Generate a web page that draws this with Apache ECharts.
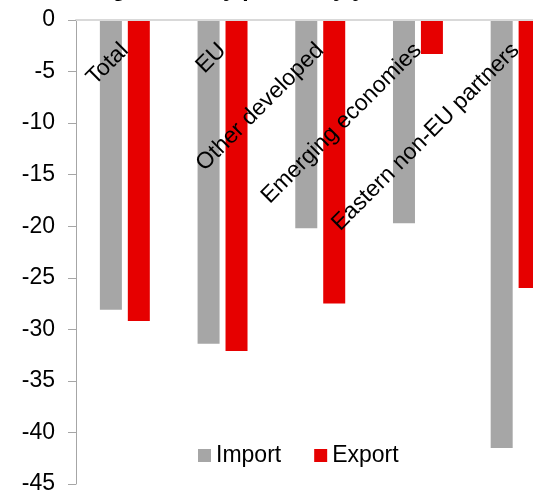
<!DOCTYPE html>
<html>
<head>
<meta charset="utf-8">
<script src="https://cdn.jsdelivr.net/npm/echarts@6/dist/echarts.min.js"></script>
<style>
html,body{margin:0;padding:0;background:#fff;}
#chart{width:533px;height:492px;}
</style>
</head>
<body>
<div id="chart"></div>
<script>
const categories = ["Total", "EU", "Other developed", "Emerging economies", "Eastern non-EU partners"];
const importValues = [-28.1, -31.4, -20.2, -19.7, -41.5];
const exportValues = [-29.2, -32.1, -27.5, -3.3, -26.0];
const seriesNames = ["Import", "Export"];
const yTicks = { min: -45, max: 0, interval: 5 };
const titleText = "Foreign trade by partner, y/y";

const chart = echarts.init(document.getElementById('chart'));
const font = "'Liberation Sans', Arial, sans-serif";
chart.setOption({
  animation: false,
  title: {
    text: titleText,
    right: 168,
    top: -21.5,
    padding: 0,
    textStyle: { fontFamily: font, fontSize: 23, fontWeight: 'bold', color: '#000' }
  },
  grid: { left: 76, top: 20, width: 488.5, height: 464, outerBoundsMode: 'none', containLabel: false },
  legend: {
    left: 198,
    top: 444,
    padding: 0,
    itemWidth: 13,
    itemHeight: 13,
    itemGap: 33,
    icon: 'rect',
    textStyle: { fontFamily: font, fontSize: 23, color: '#000' },
    data: seriesNames
  },
  xAxis: {
    type: 'category',
    position: 'top',
    z: 10,
    data: categories,
    axisLine: { show: true, lineStyle: { color: '#d9d9d9', width: 2 } },
    axisTick: { show: false },
    axisLabel: {
      inside: true,
      rotate: 45,
      margin: 27,
      interval: 0,
      fontFamily: font,
      fontSize: 23,
      color: '#000'
    },
    splitLine: { show: false }
  },
  yAxis: {
    type: 'value',
    min: yTicks.min,
    max: yTicks.max,
    interval: yTicks.interval,
    z: 10,
    axisLine: { show: true, lineStyle: { color: '#a6a6a6', width: 1 } },
    axisTick: { show: true, length: 8, lineStyle: { color: '#a6a6a6' } },
    axisLabel: { fontFamily: font, fontSize: 23, color: '#000', margin: 21 },
    splitLine: { show: false }
  },
  series: [
    {
      name: seriesNames[0],
      type: 'bar',
      data: importValues,
      barWidth: 22,
      barGap: '27%',
      itemStyle: { color: '#a6a6a6' }
    },
    {
      name: seriesNames[1],
      type: 'bar',
      data: exportValues,
      barWidth: 22,
      barGap: '27%',
      itemStyle: { color: '#e60000' }
    }
  ]
});
</script>
</body>
</html>
